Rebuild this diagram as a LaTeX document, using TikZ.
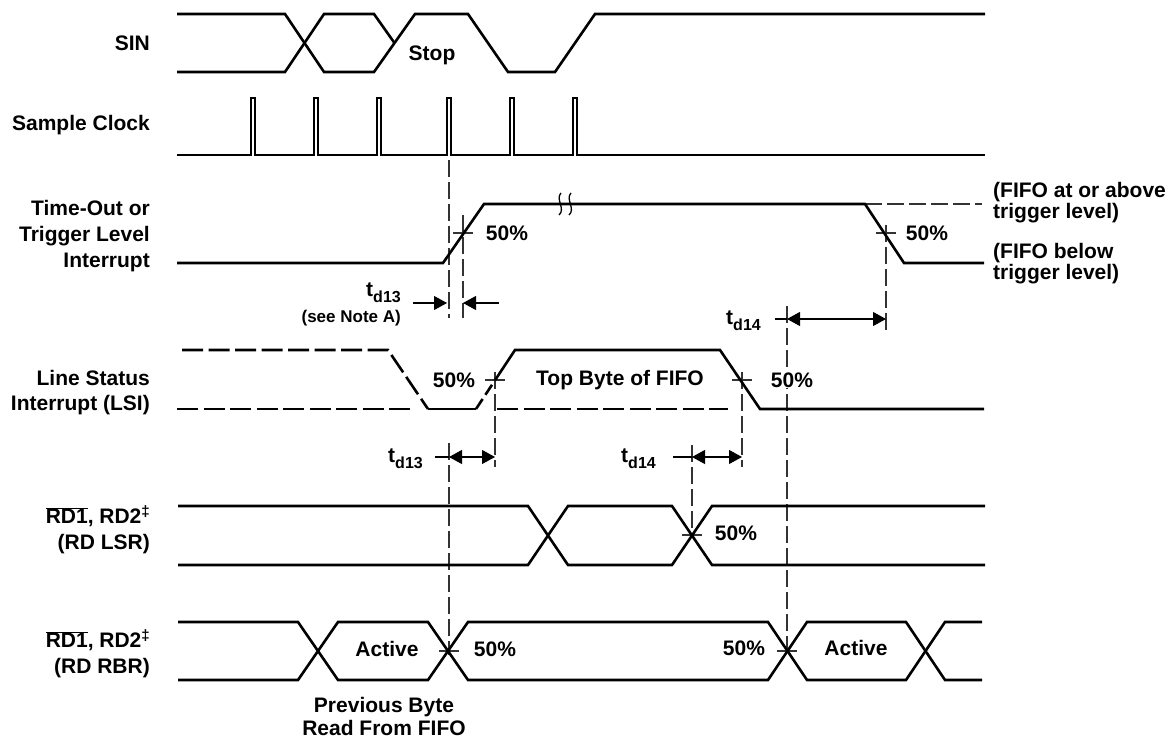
\documentclass[tikz,border=0pt]{standalone}
\usepackage{fontspec}
\setmainfont{Liberation Sans}
\usetikzlibrary{arrows.meta}
\newcommand\tdsub[1]{t\raisebox{-0.3em}{\fontsize{16}{16}\selectfont #1}}
\newcommand\mydagger{\raisebox{0.32em}{\fontsize{15}{15}\selectfont ‡}}
\begin{document}
\begin{tikzpicture}[x=1pt,y=-1pt,
  sig/.style={line width=2.6pt, line join=miter, line cap=butt},
  sigdash/.style={sig, dash pattern=on 21pt off 5.5pt},
  clk/.style={line width=2.2pt, line join=miter},
  guide/.style={line width=1.1pt, black!80, dash pattern=on 17pt off 5pt},
  tickline/.style={line width=1.1pt, black!80},
  dimline/.style={line width=1.1pt, black},
  tri/.tip={Triangle[length=13pt,width=14pt]},
  lbl/.style={font=\fontsize{21}{26}\selectfont\bfseries, align=right, anchor=east, inner sep=0pt},
  rlbl/.style={font=\fontsize{21}{21}\selectfont\bfseries, align=left, anchor=west, inner sep=0pt},
  txt/.style={font=\fontsize{21}{24}\selectfont\bfseries, inner sep=0pt},
  small/.style={font=\fontsize{17}{20}\selectfont\bfseries, inner sep=0pt},
]
\useasboundingbox (0,0) rectangle (1175,738);

% ---------- guides ----------
\draw[guide] (449,160) -- (449,318);
\draw[guide] (449,443) -- (449,655);
\draw[guide] (463,215) -- (463,318);
\draw[guide] (495,372) -- (495,467);
\draw[guide] (742,372) -- (742,467);
\draw[guide] (692,445) -- (692,537);
\draw[guide] (787,306) -- (787,655);
\draw[guide] (886,225) -- (886,330);
\draw[guide] (865,204) -- (982,204);

% ---------- 50% ticks ----------
\draw[tickline] (453,233) -- (473,233);
\draw[tickline] (876,233) -- (896,233);
\draw[tickline] (485,380) -- (505,380);
\draw[tickline] (732,380) -- (752,380);
\draw[tickline] (682,535) -- (702,535);
\draw[tickline] (439,651) -- (459,651);
\draw[tickline] (777,651) -- (797,651);

% ---------- SIN ----------
\draw[sig] (177,14) -- (285,14) -- (324,72) -- (374,72) -- (415,14) -- (468,14) -- (508,72) -- (555,72) -- (595,14) -- (985,14);
\draw[sig] (177,72) -- (285,72) -- (324,14) -- (374,14) -- (394.5,43);

% ---------- Sample clock ----------
\draw[clk] (177,155) -- (251,155) -- (251,98) -- (255,98) -- (255,155)
  -- (314,155) -- (314,98) -- (318,98) -- (318,155)
  -- (377,155) -- (377,98) -- (381,98) -- (381,155)
  -- (447,155) -- (447,98) -- (451,98) -- (451,155)
  -- (510,155) -- (510,98) -- (514,98) -- (514,155)
  -- (573,155) -- (573,98) -- (577,98) -- (577,155) -- (985,155);

% ---------- Time-out ----------
\draw[sig] (177,263) -- (443,263) -- (484,204) -- (865,204) -- (904,263) -- (984,263);
\draw[line width=1.3pt] (561,193) .. controls (555,199) and (566,209) .. (559,215);
\draw[line width=1.3pt] (571,193) .. controls (565,199) and (576,209) .. (569,215);

% ---------- LSI ----------
\draw[sigdash] (182,350) -- (388,350) -- (428,409);
\draw[sigdash] (177,409) -- (412,409);
\draw[sig] (428,409) -- (476,409);
\draw[sig, dash pattern=on 12pt off 5pt] (476,409) -- (495.5,379.5);
\draw[sig] (495.5,379.5) -- (515,350) -- (720,350) -- (760,409) -- (984,409);
\draw[sigdash] (497,409) -- (728,409);

% ---------- RD LSR ----------
\draw[sig] (178,506) -- (528,506) -- (568,565) -- (672,565) -- (712,506) -- (985,506);
\draw[sig] (178,565) -- (528,565) -- (568,506) -- (672,506) -- (712,565) -- (985,565);

% ---------- RD RBR ----------
\draw[sig] (178,622) -- (298,622) -- (338,680) -- (428,680) -- (468,622) -- (768,622) -- (807,680) -- (906,680) -- (945,622) -- (982,622);
\draw[sig] (178,680) -- (298,680) -- (338,622) -- (428,622) -- (468,680) -- (768,680) -- (807,622) -- (906,622) -- (945,680) -- (982,680);

% ---------- dimension arrows ----------
\draw[dimline,-tri] (413,303) -- (447,303);
\draw[dimline,-tri] (499,303) -- (463,303);
\draw[dimline] (775,319) -- (787,319);
\draw[dimline,tri-tri] (787,319) -- (886,319);
\draw[dimline] (435,457) -- (449,457);
\draw[dimline,tri-tri] (449,457) -- (495,457);
\draw[dimline] (673,457) -- (692,457);
\draw[dimline,tri-tri] (692,457) -- (742,457);

% ---------- left labels ----------
\node[lbl] (lsin) at (150,43) {SIN};
\node[lbl] (lclk) at (150,125) {Sample Clock};
\node[lbl] (lto) at (150,236) {Time-Out or\\Trigger Level\\Interrupt};
\node[lbl, font=\fontsize{21}{25}\selectfont\bfseries] (llsi) at (150,393) {Line Status\\Interrupt (LSI)};
\node[lbl] (llsr) at (150,530) {$\overline{\hbox{RD1}}$, RD2\mydagger\\(RD LSR)};
\node[lbl] (lrbr) at (150,654) {$\overline{\hbox{RD1}}$, RD2\mydagger\\(RD RBR)};

% ---------- right labels ----------
\node[rlbl] (rabove) at (993,203) {(FIFO at or above\\trigger level)};
\node[rlbl] (rbelow) at (993,264) {(FIFO below\\trigger level)};

% ---------- in-diagram texts ----------
\node[txt] (stop) at (432,55) {Stop};
\node[txt] (p1) at (507,233) {50\%};
\node[txt] (p2) at (927,233) {50\%};
\node[txt, anchor=east] (td13a) at (401,293) {\tdsub{d13}};
\node[small, anchor=east] (note) at (401,318) {(see Note A)};
\node[txt, anchor=east] (td14a) at (761,321) {\tdsub{d14}};
\node[txt] (p3) at (454,380) {50\%};
\node[txt] (top) at (620,380) {Top Byte of FIFO};
\node[txt, fill=white, inner sep=1pt] (p4) at (792,380) {50\%};
\node[txt, anchor=east] (td13b) at (423,459) {\tdsub{d13}};
\node[txt, anchor=east] (td14b) at (656,459) {\tdsub{d14}};
\node[txt] (p5) at (736,533) {50\%};
\node[txt] (act1) at (387,649) {Active};
\node[txt] (p6) at (495,649) {50\%};
\node[txt] (p7) at (744,648) {50\%};
\node[txt] (act2) at (856,648) {Active};
\node[txt, align=center, font=\fontsize{21}{23}\selectfont\bfseries] (prev) at (384,716) {Previous Byte\\Read From FIFO};
\end{tikzpicture}
\end{document}
